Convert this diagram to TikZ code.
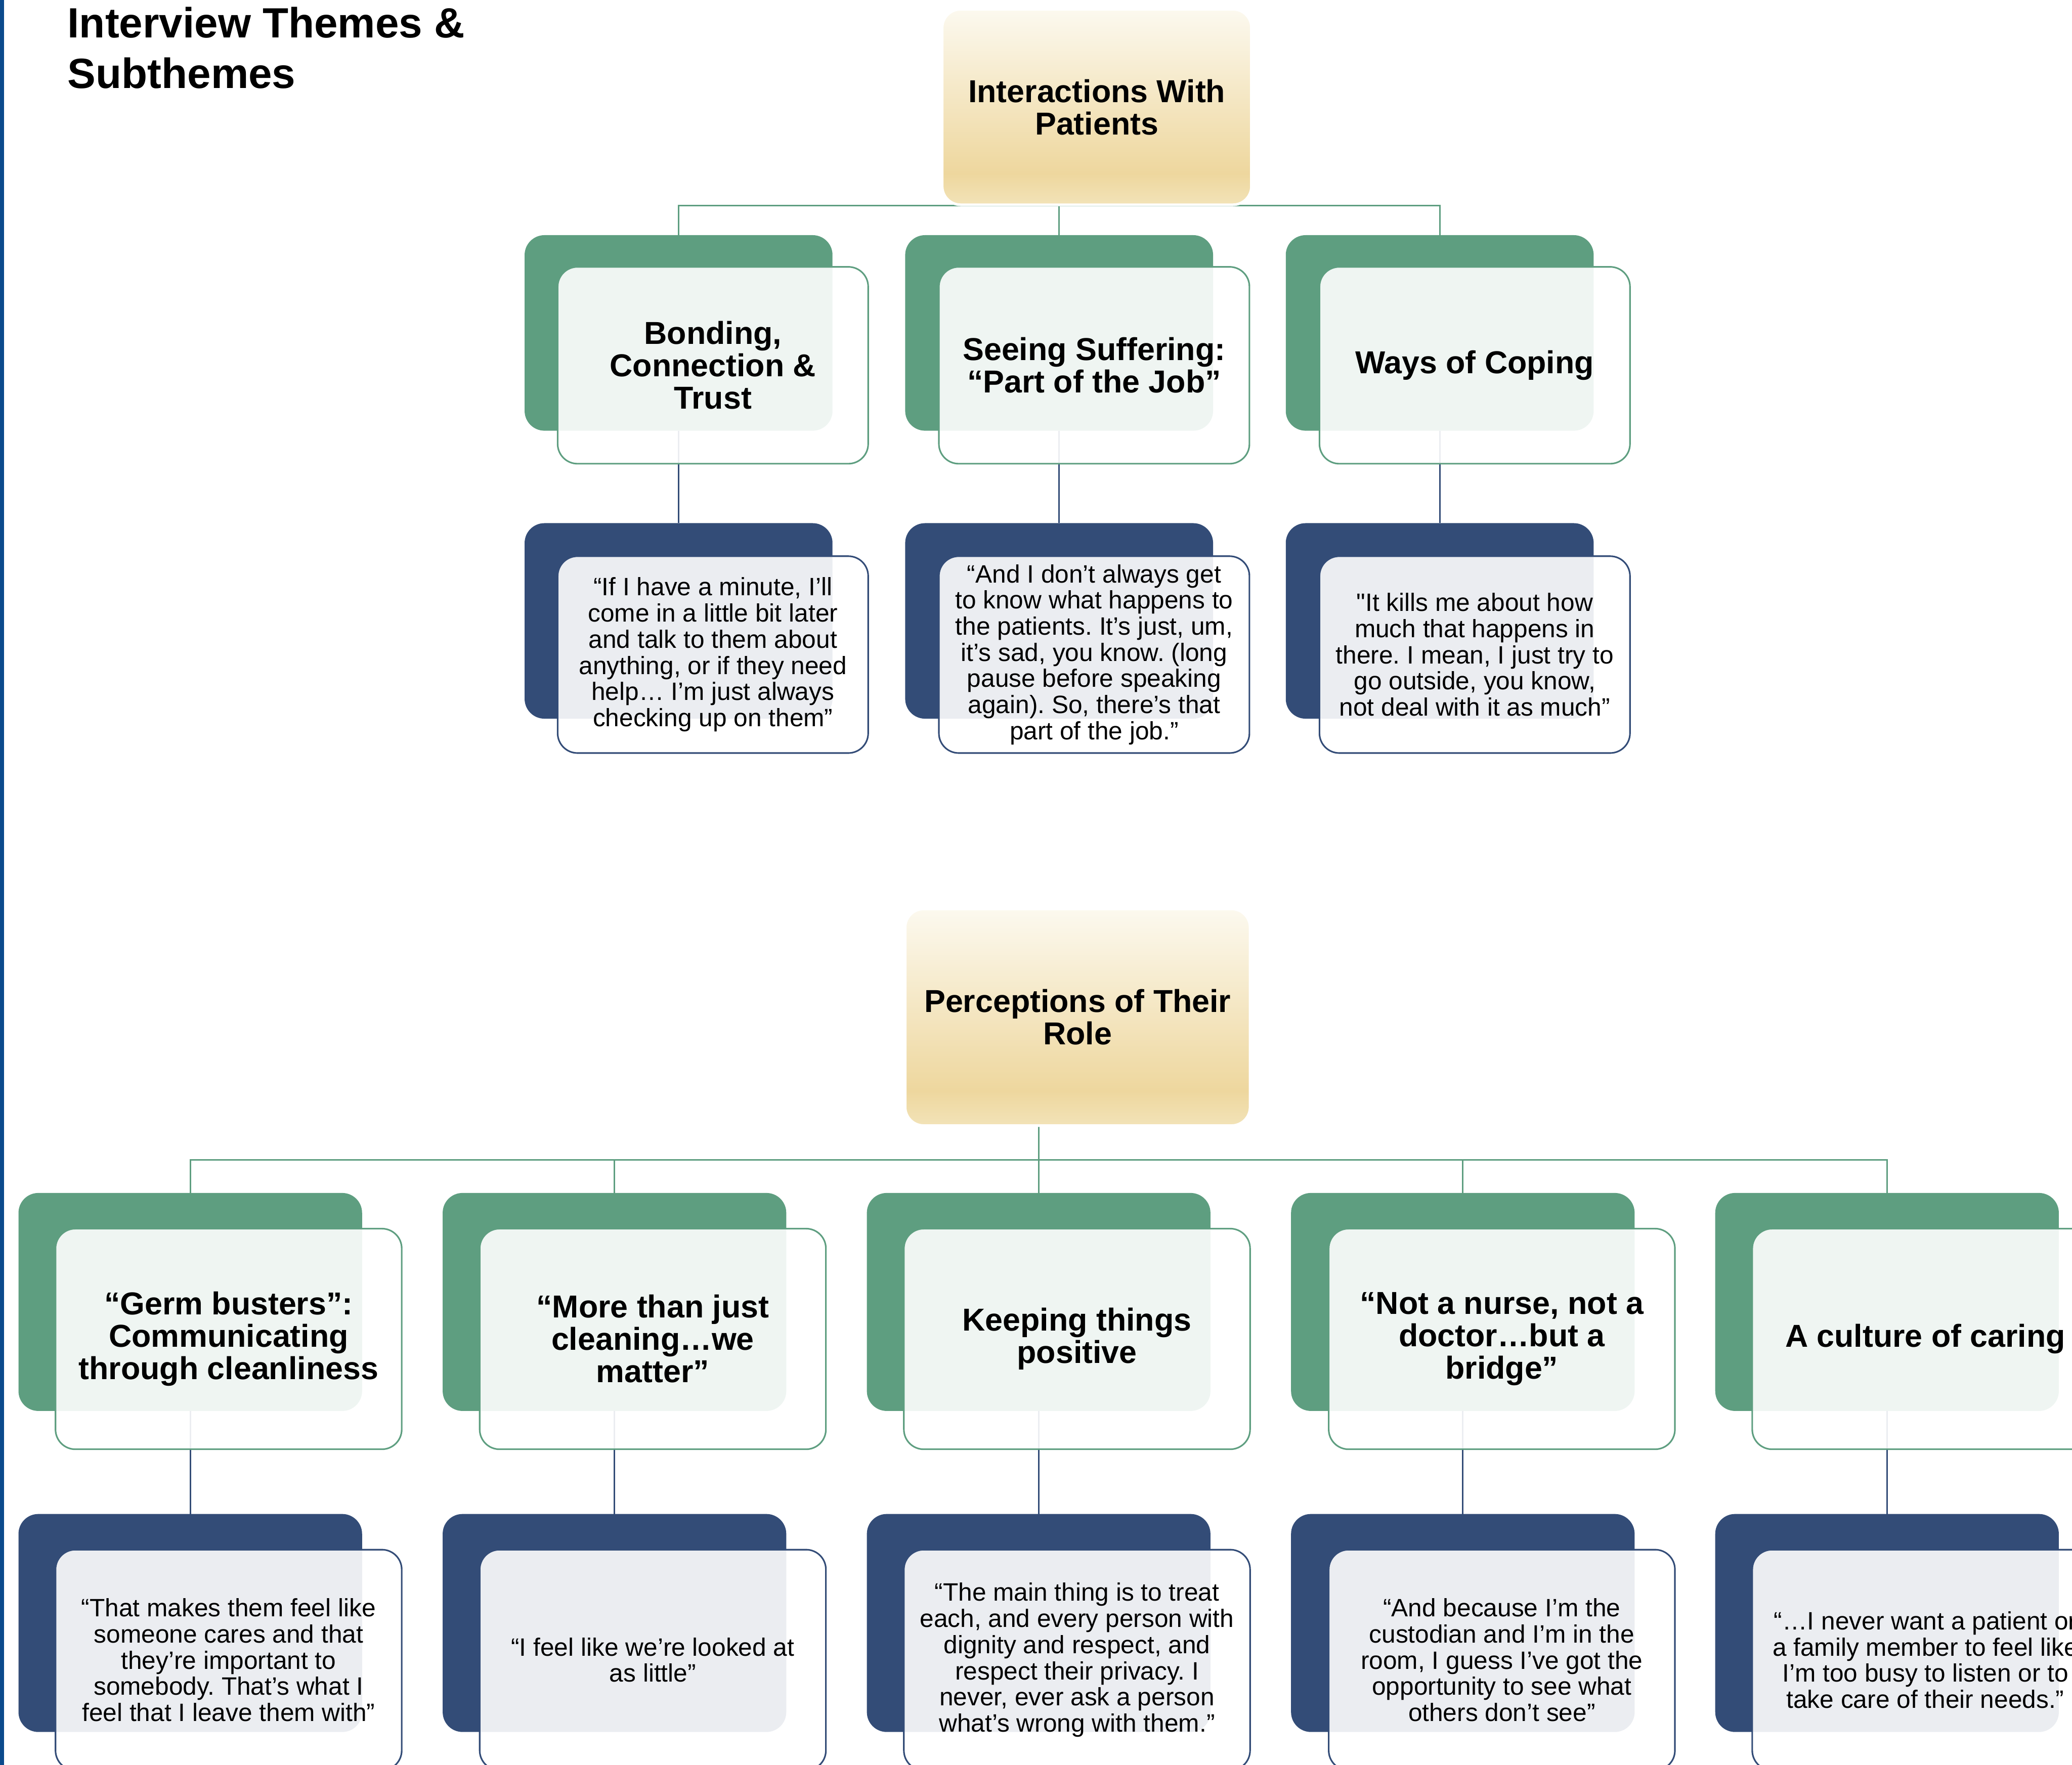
\documentclass[tikz,border=0pt]{standalone}
\usepackage{fontspec}
\setmainfont{Liberation Sans}[Ligatures=TeXOff]
\frenchspacing
\definecolor{tgreen}{HTML}{5E9E80}
\definecolor{tblue}{HTML}{334C77}
\definecolor{barblue}{HTML}{0B4A8C}
\definecolor{goldA}{HTML}{F2E3B8}
\definecolor{goldB}{HTML}{EED79E}
\definecolor{goldC}{HTML}{FCF9EF}
\pgfdeclarelayer{backl}
\pgfdeclarelayer{midl}
\pgfsetlayers{backl,midl,main}
\pgfdeclareverticalshading{rootshade}{100bp}{color(0bp)=(goldA); color(25bp)=(goldA); color(33bp)=(goldB); color(75bp)=(goldC); color(100bp)=(goldC)}
\tikzset{
  rootbox/.style={rectangle, rounded corners=14pt, shading=rootshade, draw=white, line width=2pt,
    align=center, font=\fontsize{24}{24.5}\selectfont\bfseries, inner sep=0pt, outer sep=0pt},
  backbox/.style={rectangle, rounded corners=15pt, inner sep=0pt, outer sep=0pt},
  greenback/.style={backbox, fill=tgreen},
  blueback/.style={backbox, fill=tblue},
  frontbox/.style={rectangle, rounded corners=15pt, line width=1.2pt, fill=white, fill opacity=0.9,
    text opacity=1, align=center, inner sep=0pt, outer sep=0pt},
  themebox/.style={frontbox, draw=tgreen, font=\fontsize{24}{24.5}\selectfont\bfseries},
  quotebox/.style={frontbox, draw=tblue, font=\fontsize{19}{19.8}\selectfont},
  topback/.style={minimum width=233pt, minimum height=148pt},
  topfront/.style={minimum width=235pt, minimum height=149pt},
  botback/.style={minimum width=260pt, minimum height=165pt},
  botfront/.style={minimum width=262pt, minimum height=167pt},
  gline/.style={draw=tgreen, line width=1.2pt},
  bline/.style={draw=tblue, line width=1.2pt},
}
\begin{document}
\begin{tikzpicture}[x=1pt, y=-1pt]
\useasboundingbox (0,0) rectangle (1568,1336);
\begin{pgfonlayer}{backl}
  \fill[barblue] (0,0) rectangle (3,1336);
  % top back boxes
  \node[greenback, topback] (tb1) at (513.5,252) {};
  \node[greenback, topback] (tb2) at (801.5,252) {};
  \node[greenback, topback] (tb3) at (1089.5,252) {};
  \node[blueback, topback] (tq1) at (513.5,470) {};
  \node[blueback, topback] (tq2) at (801.5,470) {};
  \node[blueback, topback] (tq3) at (1089.5,470) {};
  % bottom back boxes
  \node[greenback, botback] (bb1) at (144,985.5) {};
  \node[greenback, botback] (bb2) at (465,985.5) {};
  \node[greenback, botback] (bb3) at (786,985.5) {};
  \node[greenback, botback] (bb4) at (1107,985.5) {};
  \node[greenback, botback] (bb5) at (1428,985.5) {};
  \node[blueback, botback] (bq1) at (144,1228.5) {};
  \node[blueback, botback] (bq2) at (465,1228.5) {};
  \node[blueback, botback] (bq3) at (786,1228.5) {};
  \node[blueback, botback] (bq4) at (1107,1228.5) {};
  \node[blueback, botback] (bq5) at (1428,1228.5) {};
\end{pgfonlayer}

% title
\node[anchor=north west, align=left, inner sep=0pt, font=\fontsize{32}{38.5}\selectfont\bfseries] (title) at (51,5) {Interview Themes \&\\Subthemes};

% roots
\node[rootbox, minimum width=234pt, minimum height=148pt] (root1) at (830,81) {Interactions With\\Patients};
\node[rootbox, minimum width=261pt, minimum height=164pt] (root2) at (815.5,770) {Perceptions of Their\\Role};

% top front boxes
\node[themebox, topfront] (tf1) at (539.5,276.5) {Bonding,\\Connection \&\\Trust};
\node[themebox, topfront] (tf2) at (828,276.5) {Seeing Suffering:\\“Part of the Job”};
\node[themebox, topfront] (tf3) at (1116,276.5) {Ways of Coping};
\node[quotebox, topfront] (tqf1) at (539.5,495.5) {“If I have a minute, I’ll\\come in a little bit later\\and talk to them about\\anything, or if they need\\help… I’m just always\\checking up on them”};
\node[quotebox, topfront] (tqf2) at (828,495.5) {“And I don’t always get\\to know what happens to\\the patients. It’s just, um,\\it’s sad, you know. (long\\pause before speaking\\again). So, there’s that\\part of the job.”};
\node[quotebox, topfront] (tqf3) at (1116,495.5) {"It kills me about how\\much that happens in\\there. I mean, I just try to\\go outside, you know,\\not deal with it as much”};

% bottom front boxes
\node[themebox, botfront] (bf1) at (173,1013.5) {“Germ busters”:\\Communicating\\through cleanliness};
\node[themebox, botfront] (bf2) at (494,1013.5) {“More than just\\cleaning…we\\matter”};
\node[themebox, botfront] (bf3) at (815,1013.5) {Keeping things\\positive};
\node[themebox, botfront] (bf4) at (1136.5,1013.5) {“Not a nurse, not a\\doctor…but a\\bridge”};
\node[themebox, botfront] (bf5) at (1457,1013.5) {A culture of caring};
\node[quotebox, botfront] (bqf1) at (173,1256.5) {“That makes them feel like\\someone cares and that\\they’re important to\\somebody. That’s what I\\feel that I leave them with”};
\node[quotebox, botfront] (bqf2) at (494,1256.5) {“I feel like we’re looked at\\as little”};
\node[quotebox, botfront] (bqf3) at (815,1256.5) {“The main thing is to treat\\each, and every person with\\dignity and respect, and\\respect their privacy. I\\never, ever ask a person\\what’s wrong with them.”};
\node[quotebox, botfront] (bqf4) at (1136.5,1256.5) {“And because I’m the\\custodian and I’m in the\\room, I guess I’ve got the\\opportunity to see what\\others don’t see”};
\node[quotebox, botfront] (bqf5) at (1457,1256.5) {“…I never want a patient or\\a family member to feel like\\I’m too busy to listen or to\\take care of their needs.”};

\begin{pgfonlayer}{midl}
  % top tree connectors
  \coordinate (j1) at (801.5,155.5);
  \draw[gline] (tb1.north) |- (j1) -| (tb3.north);
  \draw[gline] (j1) -- (tb2.north);
  \draw[bline] (tb1.south) -- (tq1.north);
  \draw[bline] (tb2.south) -- (tq2.north);
  \draw[bline] (tb3.south) -- (tq3.north);
  % bottom tree connectors
  \coordinate (j2) at (786,878);
  \draw[gline] (root2.south -| j2) -- (j2);
  \draw[gline] (bb1.north) |- (j2) -| (bb5.north);
  \draw[gline] (bb2.north) -- (bb2.north |- j2);
  \draw[gline] (j2) -- (bb3.north);
  \draw[gline] (bb4.north) -- (bb4.north |- j2);
  \draw[bline] (bb1.south) -- (bq1.north);
  \draw[bline] (bb2.south) -- (bq2.north);
  \draw[bline] (bb3.south) -- (bq3.north);
  \draw[bline] (bb4.south) -- (bq4.north);
  \draw[bline] (bb5.south) -- (bq5.north);
\end{pgfonlayer}
\end{tikzpicture}
\end{document}
